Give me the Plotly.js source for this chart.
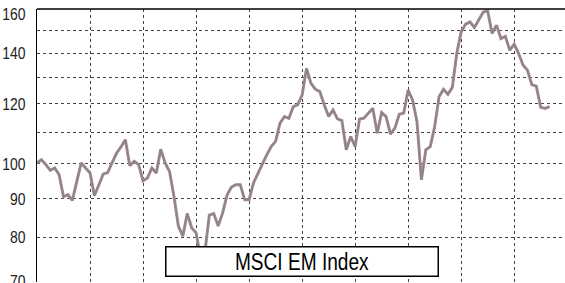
<!DOCTYPE html>
<html>
<head>
<meta charset="utf-8">
<script src="https://cdn.plot.ly/plotly-3.0.1.min.js"></script>
<style>html,body{margin:0;padding:0;background:#fff;}#chart{width:565px;height:283px;}</style>
</head>
<body>
<div id="chart"></div>
<script>
// Month index from start of series
var months = [0,1,2,3,4,5,6,7,8,10,12,13,15,16,17,18,19,20,21,22,23,24,25,26,27,28,29,30,31,32,33,34,35,36,37,38,39,40,41,42,43,44,45,46,47,48,49,50,51,52,53,54,55,56,57,58,59,60,61,62,63,64,65,66,67,68,69,70,71,72,73,74,75,76,77,78,79,80,81,82,83,84,85,86,87,88,89,90,91,92,93,94,95,96,97,98,99,100,101,102,103,104,105,106,107,108,109,110,111,112,113,114,115,116];
var msciEM = [100.3,101.3,99.8,98.1,98.8,96.8,90.5,91.1,89.5,100.3,97.3,90.8,97.0,97.4,100.4,103.3,105.3,107.6,99.5,100.8,99.8,95.0,95.8,98.8,97.3,104.6,100.3,97.7,90.6,82.8,80.3,86.0,82.4,81.1,75.5,76.5,85.6,86.0,82.8,86.1,90.9,93.2,93.9,93.9,89.7,89.7,94.4,97.3,99.8,102.8,105.4,107.1,113.2,115.5,114.9,119.0,119.7,123.3,133.7,127.8,125.5,124.6,119.7,115.5,117.8,114.7,114.1,104.4,108.7,105.4,114.6,114.9,116.7,118.4,109.8,116.9,115.5,109.5,111.5,116.3,116.7,125.2,121.5,113.7,95.3,104.4,105.4,112.0,122.7,125.5,123.6,126.2,139.9,149.4,152.9,154.0,151.4,155.1,158.7,159.2,148.7,152.4,146.4,147.4,141.3,143.9,139.9,135.1,133.0,127.2,126.7,118.8,118.4,119.0];
var seriesName = 'MSCI EM Index';
var yTickVals = [70,80,90,100,110,120,130,140,150,160];
var yTickText = ['70','80','90','100','','120','','140','','160'];

var fontFam = '"Liberation Sans Narrow", "Arial Narrow", "Liberation Sans", Arial, sans-serif';

var traces = [
  {x: months, y: msciEM, type: 'scatter', mode: 'lines', name: seriesName,
   line: {color: '#b48e98', width: 3.0}, showlegend: false, hoverinfo: 'skip'},
  {x: months, y: msciEM, type: 'scatter', mode: 'lines', name: seriesName,
   line: {color: '#8a8687', width: 1.8}, showlegend: false}
];

var layout = {
  width: 565, height: 283,
  margin: {l: 37, r: 0, t: 9, b: 1, pad: 0},
  paper_bgcolor: '#ffffff', plot_bgcolor: '#ffffff',
  showlegend: false,
  xaxis: {
    range: [0, 119.5], tick0: 0, dtick: 12, showticklabels: false, ticks: '',
    showgrid: true, gridcolor: '#444', gridwidth: 1, griddash: 'dot',
    zeroline: false, showline: false, fixedrange: true
  },
  yaxis: {
    type: 'log', range: [Math.log10(69.85), Math.log10(160.15)],
    tickmode: 'array', tickvals: yTickVals, ticktext: yTickText,
    tickfont: {family: fontFam, size: 17, color: '#222'},
    ticks: '', ticklabelstandoff: 7, ticklabeloverflow: 'allow',
    showgrid: true, gridcolor: '#444', gridwidth: 1, griddash: 'dot',
    zeroline: false, showline: true, linecolor: '#000', linewidth: 1.2, fixedrange: true
  },
  shapes: [
    {type: 'line', xref: 'paper', yref: 'paper', x0: 0, x1: 1, y0: 1, y1: 1,
     line: {color: '#000', width: 1.5}}
  ],
  annotations: [
    {xref: 'paper', yref: 'paper', x: 0.501, y: 0.0769, xanchor: 'center', yanchor: 'middle',
     text: seriesName, showarrow: false, width: 271, height: 28,
     font: {family: fontFam, size: 23, color: '#000'},
     bgcolor: '#ffffff', bordercolor: '#000', borderwidth: 1.5, borderpad: 0}
  ]
};

function condense(sel, factor) {
  document.querySelectorAll(sel).forEach(function (t) {
    var w = t.getComputedTextLength();
    if (w > 0) {
      t.setAttribute('textLength', (w * factor).toFixed(2));
      t.setAttribute('lengthAdjust', 'spacingAndGlyphs');
    }
  });
}

Plotly.newPlot('chart', traces, layout, {displayModeBar: false, staticPlot: true}).then(function () {
  condense('#chart .ytick text', 0.82);
  condense('#chart .annotation-text', 0.83);
  document.querySelectorAll('#chart .ytick text').forEach(function (t) {
    if (t.textContent === '160') {
      t.setAttribute('transform', (t.getAttribute('transform') || '') + ' translate(0,5)');
    }
  });
});
</script>
</body>
</html>
